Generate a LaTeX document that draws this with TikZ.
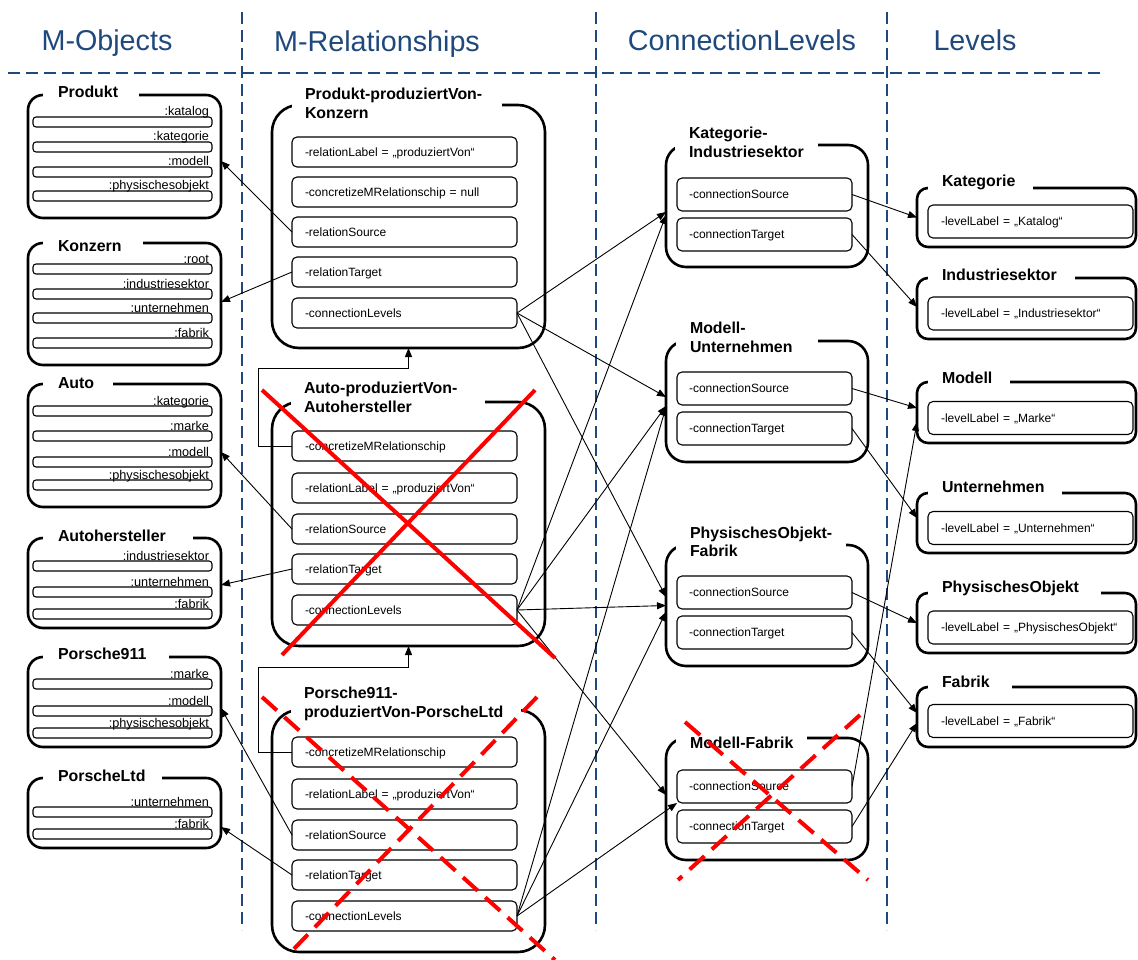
\documentclass[tikz,border=0pt]{standalone}
\usepackage{fontspec}
\setmainfont{Liberation Sans}
\usetikzlibrary{arrows.meta,calc}
\definecolor{sepblue}{HTML}{1F497D}
\definecolor{strike}{HTML}{FF0000}

% one attribute slot of an M-Object: bar name, top edge, label
\newcommand\objslot[3]{%
  \node[slotbar] (#1) at (122.5,#2+5) {};
  \node[slotlbl] (#1l) at (209,#2-1) {#3};}

\begin{document}
\begin{tikzpicture}[x=1pt,y=-1pt,
  every node/.style={inner sep=0pt,outer sep=0pt},
  header/.style={text=sepblue,anchor=base,font=\fontsize{28.7}{34}\selectfont},
  separator/.style={sepblue,line width=2.5pt,dash pattern=on 12pt off 6pt},
  framed/.style={draw,line width=2.6pt},
  objbox/.style={framed,rounded corners=15pt,minimum width=193pt},
  relbox/.style={framed,rounded corners=27pt,minimum width=273pt},
  clbox/.style={framed,rounded corners=20pt,minimum width=202pt},
  lvbox/.style={framed,rounded corners=11pt,minimum width=219pt},
  boxtitle/.style={fill=white,anchor=west,align=left,inner xsep=14pt,inner ysep=2pt,
    font=\fontsize{15.9}{18.5}\selectfont\bfseries},
  slotbar/.style={draw,line width=1.1pt,rounded corners=3pt,minimum width=179pt,minimum height=10pt},
  slotlbl/.style={anchor=base east,font=\fontsize{12.7}{15}\selectfont},
  field/.style={draw,line width=1.1pt,rounded corners=5pt,align=left,
    text height=8.6pt,text depth=0pt,font=\fontsize{12}{14}\selectfont},
  relfield/.style={field,inner xsep=13pt,text width=199pt,minimum height=30pt},
  clfield/.style={field,inner xsep=12pt,text width=151pt,minimum height=33pt},
  lvfield/.style={field,inner xsep=13pt,text width=179pt,minimum height=33pt},
  link/.style={draw,line width=0.9pt,-{Triangle[length=9pt,width=7pt]}},
  cross/.style={strike,line width=4pt},
  dashedcross/.style={cross,dash pattern=on 20pt off 10pt},
]
\useasboundingbox (0,0) rectangle (1138,960);
\fill[white] (0,0) rectangle (1138,960);

% column headers and separators
\node[header] (hobj) at (107,51) {M-Objects};
\node[header] (hrel) at (377,52) {M-Relationships};
\node[header] (hcl) at (742,51) {ConnectionLevels};
\node[header] (hlv) at (975,51) {Levels};
\draw[separator] (8,73) -- (1105,73);
\draw[separator] (242,12) -- (242,930);
\draw[separator] (596,12) -- (596,930);
\draw[separator] (887,12) -- (887,930);

% ---------------- M-Objects ----------------
\node[objbox,minimum height=123pt] (produkt) at (124.5,156.5) {};
\objslot{produkt1}{117}{:katalog}
\objslot{produkt2}{142}{:kategorie}
\objslot{produkt3}{167}{:modell}
\objslot{produkt4}{191}{:physischesobjekt}

\node[objbox,minimum height=122pt] (konzern) at (124.5,304) {};
\objslot{konzern1}{264}{:root}
\objslot{konzern2}{289}{:industriesektor}
\objslot{konzern3}{313}{:unternehmen}
\objslot{konzern4}{338}{:fabrik}

\node[objbox,minimum height=123pt] (auto) at (124.5,445.5) {};
\objslot{auto1}{406}{:kategorie}
\objslot{auto2}{431}{:marke}
\objslot{auto3}{457}{:modell}
\objslot{auto4}{480}{:physischesobjekt}

\node[objbox,minimum height=90pt] (autoh) at (124.5,583) {};
\objslot{autoh1}{561}{:industriesektor}
\objslot{autoh2}{587}{:unternehmen}
\objslot{autoh3}{609}{:fabrik}

\node[objbox,minimum height=90pt] (pnine) at (124.5,702) {};
\objslot{pnine1}{679}{:marke}
\objslot{pnine2}{706}{:modell}
\objslot{pnine3}{728}{:physischesobjekt}

\node[objbox,minimum height=70pt] (pltd) at (124.5,813) {};
\objslot{pltd1}{807}{:unternehmen}
\objslot{pltd2}{829}{:fabrik}

\node[boxtitle,inner xsep=15pt] (produktT) at (43,92) {Produkt\rule{6pt}{0pt}};
\node[boxtitle,inner xsep=15pt] (konzernT) at (43,246) {Konzern\rule{6pt}{0pt}};
\node[boxtitle,inner xsep=15pt] (autoT) at (43,383) {Auto\rule{4pt}{0pt}};
\node[boxtitle,inner xsep=15pt] (autohT) at (43,536) {Autohersteller\rule{12pt}{0pt}};
\node[boxtitle,inner xsep=15pt] (pnineT) at (43,654) {Porsche911\rule{8pt}{0pt}};
\node[boxtitle,inner xsep=15pt] (pltdT) at (43,776) {PorscheLtd\rule{2pt}{0pt}};

% ---------------- M-Relationships ----------------
\node[relbox,minimum height=243pt] (rel1) at (408.5,226.5) {};
\node[relfield] (r1lab) at (404.5,152) {-relationLabel = „produziertVon“};
\node[relfield] (r1conc) at (404.5,192) {-concretizeMRelationschip = null};
\node[relfield] (r1src) at (404.5,232) {-relationSource};
\node[relfield] (r1tgt) at (404.5,272) {-relationTarget};
\node[relfield] (r1cl) at (404.5,313) {-connectionLevels};
\node[boxtitle,inner xsep=13pt] (rel1T) at (292,103.5) {Produkt-produziertVon-\rule{7pt}{0pt}\\Konzern};

\node[relbox,minimum height=244pt] (rel2) at (408.5,524) {};
\node[relfield] (r2conc) at (404.5,446) {-concretizeMRelationschip};
\node[relfield] (r2lab) at (404.5,488) {-relationLabel = „produziertVon“};
\node[relfield] (r2src) at (404.5,529) {-relationSource};
\node[relfield] (r2tgt) at (404.5,569) {-relationTarget};
\node[relfield] (r2cl) at (404.5,610) {-connectionLevels};
\node[boxtitle,inner xsep=13pt] (rel2T) at (291,397.5) {Auto-produziertVon-\rule{15pt}{0pt}\\Autohersteller};

\node[relbox,minimum height=242pt] (rel3) at (408.5,831) {};
\node[relfield] (r3conc) at (404.5,752) {-concretizeMRelationschip};
\node[relfield] (r3lab) at (404.5,794) {-relationLabel = „produziertVon“};
\node[relfield] (r3src) at (404.5,835) {-relationSource};
\node[relfield] (r3tgt) at (404.5,875) {-relationTarget};
\node[relfield] (r3cl) at (404.5,916) {-connectionLevels};
\node[boxtitle,inner xsep=13pt] (rel3T) at (291,704) {Porsche911-\\produziertVon-PorscheLtd\rule{5pt}{0pt}};

% ---------------- ConnectionLevels ----------------
\node[clbox,minimum height=122pt] (cl1) at (767,206) {};
\node[clfield] (cl1src) at (764.5,194.5) {-connectionSource};
\node[clfield] (cl1tgt) at (764.5,234.5) {-connectionTarget};
\node[boxtitle] (cl1T) at (675,142.5) {Kategorie-\\Industriesektor};

\node[clbox,minimum height=121pt] (cl2) at (767,401.5) {};
\node[clfield] (cl2src) at (764.5,388.5) {-connectionSource};
\node[clfield] (cl2tgt) at (764.5,428.5) {-connectionTarget};
\node[boxtitle] (cl2T) at (676,337.5) {Modell-\\Unternehmen\rule{12pt}{0pt}};

\node[clbox,minimum height=121pt] (cl3) at (767,605.5) {};
\node[clfield] (cl3src) at (764.5,592.5) {-connectionSource};
\node[clfield] (cl3tgt) at (764.5,632.5) {-connectionTarget};
\node[boxtitle] (cl3T) at (676,542) {PhysischesObjekt-\\Fabrik};

\node[clbox,minimum height=122pt] (cl4) at (767,799) {};
\node[clfield] (cl4src) at (764.5,786.5) {-connectionSource};
\node[clfield] (cl4tgt) at (764.5,826.5) {-connectionTarget};
\node[boxtitle] (cl4T) at (676,743) {Modell-Fabrik};

% ---------------- Levels ----------------
\node[lvbox,minimum height=59pt] (lv1) at (1026.5,217.5) {};
\node[lvfield] (lv1f) at (1030.5,221.5) {-levelLabel = „Katalog“};
\node[boxtitle] (lv1T) at (928,182) {Kategorie\rule{4pt}{0pt}};

\node[lvbox,minimum height=61pt] (lv2) at (1026.5,308.5) {};
\node[lvfield] (lv2f) at (1030.5,313.5) {-levelLabel = „Industriesektor“};
\node[boxtitle] (lv2T) at (928,275) {Industriesektor\rule{4pt}{0pt}};

\node[lvbox,minimum height=61pt] (lv3) at (1026.5,412.5) {};
\node[lvfield] (lv3f) at (1030.5,418) {-levelLabel = „Marke“};
\node[boxtitle] (lv3T) at (928,378) {Modell\rule{4pt}{0pt}};

\node[lvbox,minimum height=60pt] (lv4) at (1026.5,523) {};
\node[lvfield] (lv4f) at (1030.5,528) {-levelLabel = „Unternehmen“};
\node[boxtitle] (lv4T) at (928,487) {Unternehmen\rule{4pt}{0pt}};

\node[lvbox,minimum height=60pt] (lv5) at (1026.5,623) {};
\node[lvfield] (lv5f) at (1030.5,627.5) {-levelLabel = „PhysischesObjekt“};
\node[boxtitle] (lv5T) at (928,588) {PhysischesObjekt\rule{8pt}{0pt}};

\node[lvbox,minimum height=60pt] (lv6) at (1026.5,717) {};
\node[lvfield] (lv6f) at (1030.5,721) {-levelLabel = „Fabrik“};
\node[boxtitle] (lv6T) at (928,682) {Fabrik\rule{8pt}{0pt}};

% ---------------- relation source / target links ----------------
\draw[link] (r1src.west) -- ($(produkt.east)+(0,4.5)$);
\draw[link] (r1tgt.west) -- ($(konzern.east)+(0,-2)$);
\draw[link] (r2src.west) -- ($(auto.east)+(0,6.5)$);
\draw[link] (r2tgt.west) -- ($(autoh.east)+(0,2)$);
\draw[link] (r3src.west) -- ($(pnine.east)+(0,6)$);
\draw[link] (r3tgt.west) -- ($(pltd.east)+(0,14)$);

% concretization links
\coordinate (bendA) at (258,368);
\coordinate (bendB) at (258,667);
\draw[link] (r2conc.west) -| (bendA) -| (rel1.south);
\draw[link] (r3conc.west) -| (bendB) -| (rel2.south);

% connection level links
\draw[link] (r1cl.east) -- ($(cl1.west)+(0,6)$);
\draw[link] (r1cl.east) -- ($(cl2.west)+(0,-4.5)$);
\draw[link] (r1cl.east) -- ($(cl3.west)+(0,-8.5)$);
\draw[link] (r2cl.east) -- ($(cl1.west)+(0,9)$);
\draw[link] (r2cl.east) -- ($(cl2.west)+(0,4.5)$);
\draw[link] (r2cl.east) -- (cl3.west);
\draw[link] (r2cl.east) -- ($(cl4.west)+(0,-4)$);
\draw[link] (r3cl.east) -- ($(cl2.west)+(0,5.5)$);
\draw[link] (r3cl.east) -- ($(cl3.west)+(0,6.5)$);
\draw[link] (r3cl.east) -- (cl4src.south west);

% level links
\draw[link] (cl1src.east) -- (lv1.west);
\draw[link] (cl1tgt.east) -- ($(lv2.west)+(0,-1.5)$);
\draw[link] (cl2src.east) -- ($(lv3.west)+(0,-4.5)$);
\draw[link] (cl2tgt.east) -- ($(lv4.west)+(0,-5)$);
\draw[link] (cl3src.east) -- (lv5.west);
\draw[link] (cl3tgt.east) -- ($(lv6.west)+(0,-4)$);
\draw[link] (cl4src.east) -- ($(lv3.west)+(0,9.5)$);
\draw[link] (cl4tgt.east) -- ($(lv6.west)+(0,6)$);

% struck-out elements
\draw[cross] (262,390) -- (555,658);
\draw[cross] (535,390) -- (282,655);
\draw[dashedcross] (262,697) -- (555,960);
\draw[dashedcross] (537,697) -- (290,953);
\draw[dashedcross] (685,722) -- (868,880);
\draw[dashedcross] (860,715) -- (678,880);
\end{tikzpicture}
\end{document}
